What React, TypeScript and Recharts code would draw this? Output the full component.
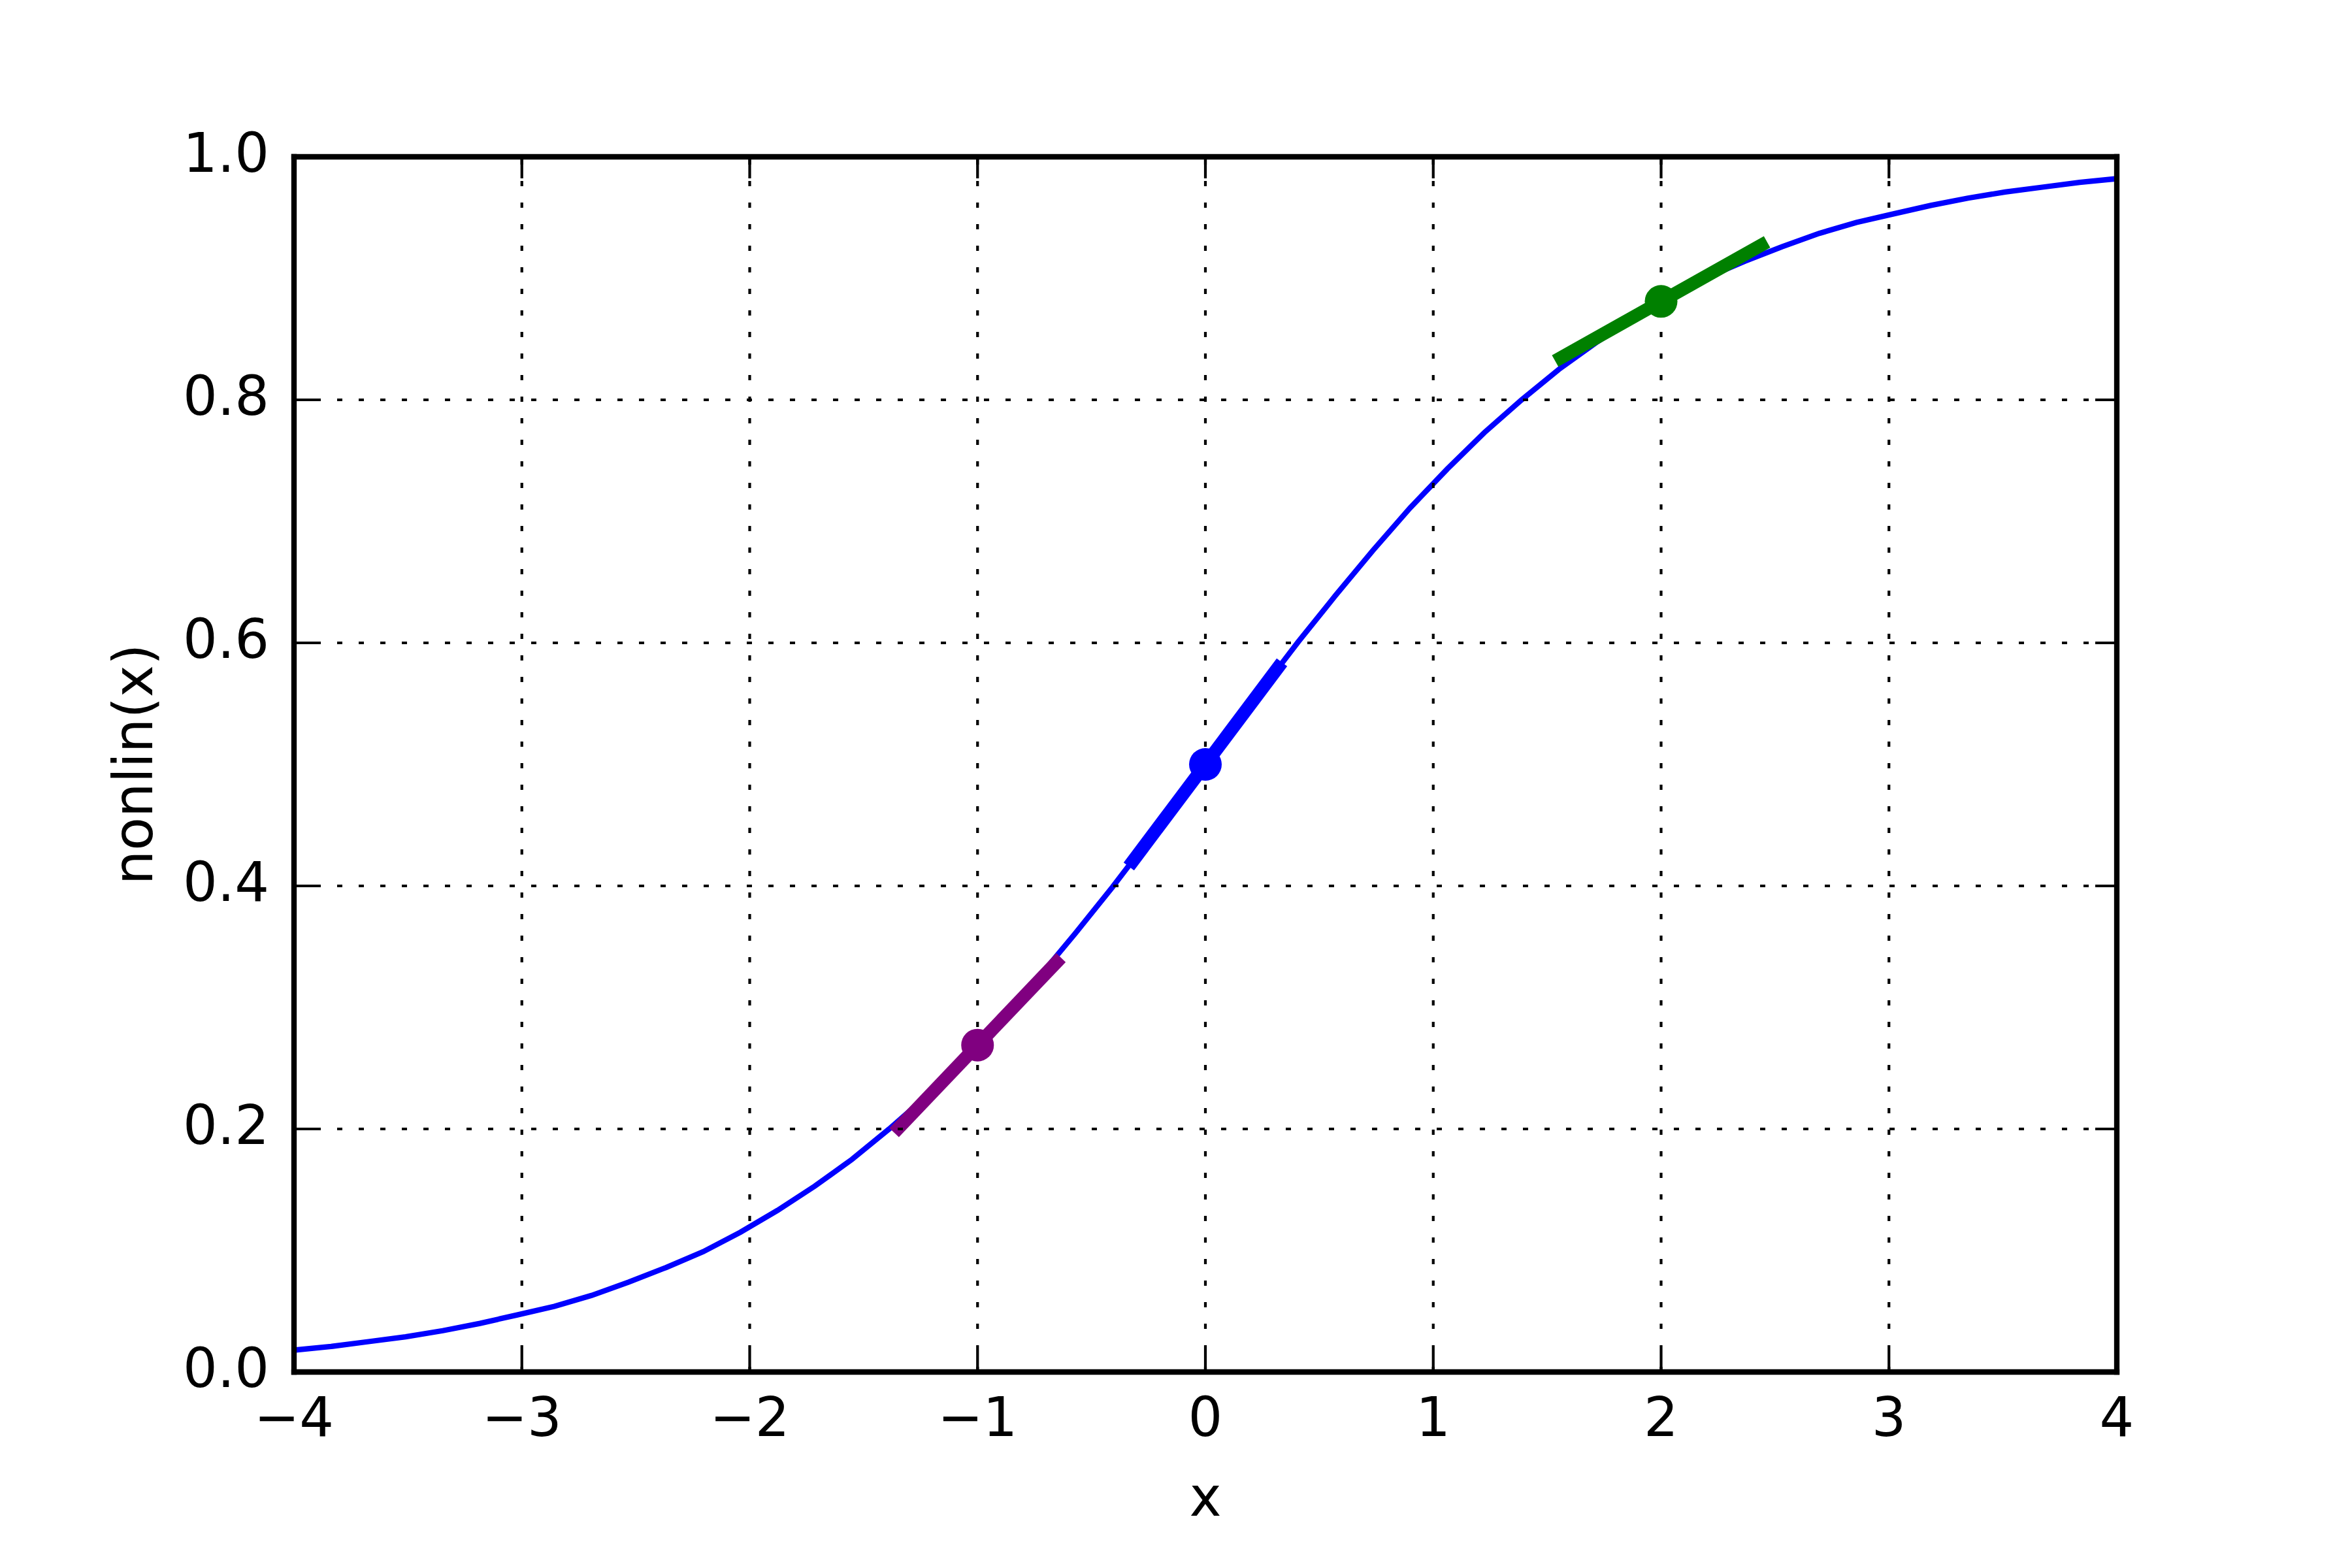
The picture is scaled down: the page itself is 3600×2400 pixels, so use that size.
import React from 'react';
import {
  ComposedChart,
  Line,
  Scatter,
  XAxis,
  YAxis,
  ReferenceLine,
} from 'recharts';

const curveX = [
  -4.0, -3.837, -3.673, -3.51, -3.347, -3.184, -3.02, -2.857, -2.694, -2.531,
  -2.367, -2.204, -2.041, -1.878, -1.714, -1.551, -1.388, -1.224, -1.061, -0.898,
  -0.735, -0.571, -0.408, -0.245, -0.082, 0.082, 0.245, 0.408, 0.571, 0.735,
  0.898, 1.061, 1.224, 1.388, 1.551, 1.714, 1.878, 2.041, 2.204, 2.367,
  2.531, 2.694, 2.857, 3.02, 3.184, 3.347, 3.51, 3.673, 3.837, 4.0,
];
const curveY = [
  0.018, 0.021, 0.025, 0.029, 0.034, 0.04, 0.047, 0.054, 0.063, 0.074,
  0.086, 0.099, 0.115, 0.133, 0.153, 0.175, 0.2, 0.227, 0.257, 0.289,
  0.324, 0.361, 0.399, 0.439, 0.48, 0.52, 0.561, 0.601, 0.639, 0.676,
  0.711, 0.743, 0.773, 0.8, 0.825, 0.847, 0.867, 0.885, 0.901, 0.914,
  0.926, 0.937, 0.946, 0.953, 0.96, 0.966, 0.971, 0.975, 0.979, 0.982,
];

// points where the tangents touch
const pointX = [-1, 0, 2];
const pointY = [0.269, 0.5, 0.881];
const pointColors = ['#800080', '#0000ff', '#008000'];

// tangent segment ends
const segStartX = [-1.366, -0.336, 1.535];
const segStartY = [0.197, 0.416, 0.832];
const segEndX = [-0.634, 0.336, 2.465];
const segEndY = [0.341, 0.584, 0.93];

const xTicks = [-4, -3, -2, -1, 0, 1, 2, 3, 4];
const yTicks = [0, 0.2, 0.4, 0.6, 0.8, 1.0];

const curve = curveX.map((x, i) => ({ x, y: curveY[i] }));
const segments = segStartX.map((x, i) => [
  { x, y: segStartY[i] },
  { x: segEndX[i], y: segEndY[i] },
]);

const W = 3600;
const H = 2400;
const PLOT_W = 2790;
const PLOT_H = 1860;
const FONT = 'DejaVu Sans';
const FS = 83;
const TICK_LEN = 33;
const TICK_W = 4.2;

const fmtX = (v: number) => (v < 0 ? '\u2212' + Math.abs(v) : String(v));

const XTick = (props: any) => {
  const { x, y, payload } = props;
  return (
    <g>
      <line x1={x} y1={y} x2={x} y2={y - TICK_LEN} stroke="#000" strokeWidth={TICK_W} />
      <line x1={x} y1={y - PLOT_H} x2={x} y2={y - PLOT_H + TICK_LEN} stroke="#000" strokeWidth={TICK_W} />
      <text x={x} y={y + 98} textAnchor="middle" fontFamily={FONT} fontSize={FS} fill="#000">
        {fmtX(payload.value)}
      </text>
    </g>
  );
};

const YTick = (props: any) => {
  const { x, y, payload } = props;
  return (
    <g>
      <line x1={x} y1={y} x2={x + TICK_LEN} y2={y} stroke="#000" strokeWidth={TICK_W} />
      <line x1={x + PLOT_W} y1={y} x2={x + PLOT_W - TICK_LEN} y2={y} stroke="#000" strokeWidth={TICK_W} />
      <text x={x - 38} y={y + 23} textAnchor="end" fontFamily={FONT} fontSize={FS} fill="#000">
        {Number(payload.value).toFixed(1)}
      </text>
    </g>
  );
};

const App: React.FC = () => {
  return (
    <div style={{ position: 'absolute', left: 0, top: 0, width: W, height: H, background: '#fff' }}>
      <ComposedChart width={W} height={H} margin={{ top: 240, right: 360, bottom: 50, left: 150 }}>
        <XAxis
          dataKey="x"
          type="number"
          domain={[-4, 4]}
          ticks={xTicks}
          interval={0}
          allowDataOverflow
          axisLine={false}
          tickLine={false}
          tickSize={0}
          tickMargin={0}
          height={250}
          tick={<XTick />}
          label={{
            content: () => (
              <text x={1845} y={2320} textAnchor="middle" fontFamily={FONT} fontSize={FS} fill="#000">
                x
              </text>
            ),
          }}
        />
        <YAxis
          dataKey="y"
          type="number"
          domain={[0, 1]}
          ticks={yTicks}
          interval={0}
          allowDataOverflow
          axisLine={false}
          tickLine={false}
          tickSize={0}
          tickMargin={0}
          width={300}
          tick={<YTick />}
          label={{
            content: () => (
              <text
                x={233}
                y={1170}
                textAnchor="middle"
                transform="rotate(-90 233 1170)"
                fontFamily={FONT}
                fontSize={FS}
                fill="#000"
              >
                nonlin(x)
              </text>
            ),
          }}
        />
        <Line
          data={curve}
          dataKey="y"
          type="linear"
          stroke="#0000ff"
          strokeWidth={8.3}
          dot={false}
          activeDot={false}
          isAnimationActive={false}
        />
        {segments.map((seg, i) => (
          <Line
            key={'seg' + i}
            data={seg}
            dataKey="y"
            type="linear"
            stroke={pointColors[i]}
            strokeWidth={20}
            dot={false}
            activeDot={false}
            isAnimationActive={false}
          />
        ))}
        {pointX.map((x, i) => (
          <Scatter
            key={'pt' + i}
            data={[{ x, y: pointY[i] }]}
            dataKey="y"
            fill={pointColors[i]}
            isAnimationActive={false}
            shape={(p: any) => <circle cx={p.cx} cy={p.cy} r={25} fill={pointColors[i]} />}
          />
        ))}
        {xTicks.map((t) => (
          <ReferenceLine key={'gx' + t} x={t} stroke="#000" strokeWidth={4.2} strokeDasharray="8 25" />
        ))}
        {yTicks.map((t) => (
          <ReferenceLine key={'gy' + t} y={t} stroke="#000" strokeWidth={4.2} strokeDasharray="8 25" />
        ))}
        <ReferenceLine x={-4} stroke="#000" strokeWidth={8.3} strokeLinecap="square" />
        <ReferenceLine x={4} stroke="#000" strokeWidth={8.3} strokeLinecap="square" />
        <ReferenceLine y={0} stroke="#000" strokeWidth={8.3} strokeLinecap="square" />
        <ReferenceLine y={1} stroke="#000" strokeWidth={8.3} strokeLinecap="square" />
      </ComposedChart>
    </div>
  );
};

export default App;
